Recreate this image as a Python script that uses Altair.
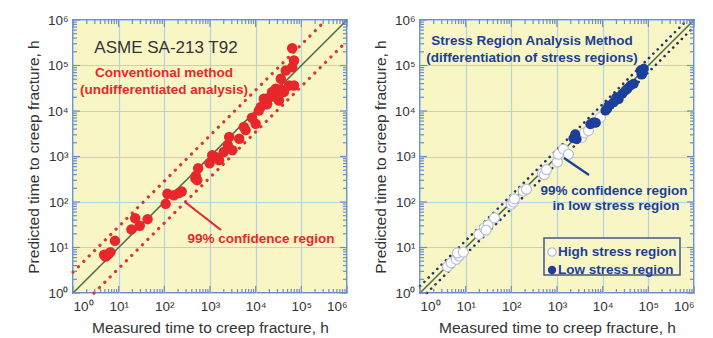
import altair as alt
import pandas as pd

# ---------------- data ----------------
left_measured = [4.8, 5.2, 6.0, 6.6, 8.3, 19, 23, 29, 43, 107, 117, 162, 209, 240,
                 480, 490, 525, 550, 977, 1120, 1320, 1580, 2000, 2450, 2630, 3090,
                 4370, 5500, 6030, 8300, 10000, 11700, 12900, 15100, 17800, 19500,
                 22900, 27500, 28200, 32400, 35500, 35500, 41700, 45700, 53700,
                 63100, 69200, 69200, 63100]
left_predicted = [6.9, 6.3, 7.2, 7.9, 14, 25, 44, 30, 42, 91, 151, 141, 158, 170,
                  330, 372, 302, 550, 708, 1070, 977, 832, 1260, 1780, 2690, 1380,
                  2450, 4470, 3800, 7100, 5250, 10200, 12300, 18600, 14100, 19500,
                  26300, 30900, 20000, 17000, 51300, 30200, 26300, 77600, 36300,
                  91200, 36300, 129000, 240000]

high_measured = [4.0, 4.8, 6.2, 7.2, 6.6, 8.9, 19.5, 25.7, 30.9, 28, 42.7, 100, 110,
                 117, 182, 214, 479, 525, 589, 1020, 1070, 1380, 1780, 3470, 3980,
                 4900, 6920, 8910]
high_predicted = [3.8, 4.6, 5.5, 6.5, 7.6, 7.9, 19.5, 26.9, 30.9, 24, 44.7, 89, 100,
                  117, 174, 191, 427, 398, 513, 759, 1120, 1450, 1120, 2630, 3310,
                  3720, 5620, 7240]

low_measured = [2290, 2510, 2690, 5370, 6310, 7080, 11500, 12600, 13500, 17400, 20000,
                22400, 26900, 31600, 34700, 40700, 47900, 67600, 70800, 74100, 79400]
low_predicted = [2510, 3090, 2400, 5130, 5620, 5500, 10200, 11200, 13200, 15500, 20000,
                 18200, 24000, 28200, 30900, 36300, 39800, 77600, 63100, 66100, 85100]

major_ticks = [1, 10, 100, 1000, 10000, 100000, 1000000]
superscripts = ["⁰", "¹", "²", "³", "⁴", "⁵", "⁶"]
minor_ticks = [m * t for t in major_ticks[:-1] for m in range(2, 10)]

left_band = 0.46   # half-width (decades) of 99% confidence region, conventional
right_band = 0.15  # half-width (decades) of 99% confidence region, low stress

# ---------------- styling ----------------
W, H = 274, 273
YELLOW = "#f9f6c5"
RED = "#e8272b"
NAVY = "#1b3f9a"
TICKC = "#6e8ccc"
FONT = "Liberation Sans"

label_expr = "'10' + " + str(superscripts).replace('"', "'") + "[round(log(datum.value)/LN10)]"

xs = alt.Scale(type="log", domain=[1, 1e6], nice=False)
ys = alt.Scale(type="log", domain=[1, 1e6], nice=False)


def xaxis():
    return alt.Axis(values=major_ticks, labelExpr=label_expr, title="Measured time to creep fracture, h",
                    ticks=False, domain=False, grid=True, labelPadding=6, titlePadding=8)


def yaxis():
    return alt.Axis(values=major_ticks, labelExpr=label_expr, title="Predicted time to creep fracture, h",
                    ticks=False, domain=False, grid=True, labelPadding=5, titlePadding=6)


def tick_layers():
    maj = pd.DataFrame({"v": major_ticks})
    mino = pd.DataFrame({"v": minor_ticks})
    layers = []
    for df, ln in ((maj, 7), (mino, 4)):
        base = alt.Chart(df).mark_rule(color=TICKC, strokeWidth=1.2)
        layers += [
            base.encode(x=alt.X("v:Q", scale=xs), y=alt.value(H), y2=alt.value(H - ln)),
            base.encode(x=alt.X("v:Q", scale=xs), y=alt.value(0), y2=alt.value(ln)),
            base.encode(y=alt.Y("v:Q", scale=ys), x=alt.value(0), x2=alt.value(ln)),
            base.encode(y=alt.Y("v:Q", scale=ys), x=alt.value(W), x2=alt.value(W - ln)),
        ]
    return layers


def diag_layers(band, color, width, dash):
    ends = [1, 1e6]
    diag = pd.DataFrame({"x": ends, "y": ends})
    up = pd.DataFrame({"x": [1, 1e6 / 10 ** band], "y": [10 ** band, 1e6]})
    lo = pd.DataFrame({"x": [10 ** band, 1e6], "y": [1, 1e6 / 10 ** band]})
    layers = [
        alt.Chart(diag).mark_line(color="#4d6b4d", strokeWidth=1.5).encode(
            x=alt.X("x:Q", scale=xs, axis=xaxis()), y=alt.Y("y:Q", scale=ys, axis=yaxis()))
    ]
    for d in (up, lo):
        layers.append(alt.Chart(d).mark_line(color=color, strokeWidth=width, strokeDash=dash,
                                             strokeCap="round").encode(
            x=alt.X("x:Q", scale=xs), y=alt.Y("y:Q", scale=ys)))
    return layers


def text(t, x, y, color, size, weight="bold"):
    return alt.Chart(pd.DataFrame({"t": [t]})).mark_text(
        color=color, fontSize=size, fontWeight=weight, font=FONT, align="center", baseline="middle"
    ).encode(text="t:N", x=alt.value(x), y=alt.value(y))


# ---------------- left panel ----------------
ldf = pd.DataFrame({"m": left_measured, "p": left_predicted})
left_pts = alt.Chart(ldf).mark_circle(color=RED, size=110, opacity=1).encode(
    x=alt.X("m:Q", scale=xs), y=alt.Y("p:Q", scale=ys))

left = alt.layer(
    *diag_layers(left_band, "#d9363a", 3.2, [0.1, 7.5]),
    left_pts,
    *tick_layers(),
    text("ASME SA-213 T92", 93, 28, "#333333", 17, "normal"),
    text("Conventional method", 91, 53, RED, 13.5),
    text("(undifferentiated analysis)", 91, 70, RED, 13.5),
    alt.Chart(pd.DataFrame({"a": [0]})).mark_rule(color=RED, strokeWidth=2.2).encode(
        x=alt.value(112), y=alt.value(182), x2=alt.value(148), y2=alt.value(210)),
    text("99% confidence region", 188, 219, RED, 13.5),
).properties(width=W, height=H)

# ---------------- right panel ----------------
hdf = pd.DataFrame({"m": high_measured, "p": high_predicted})
ndf = pd.DataFrame({"m": low_measured, "p": low_predicted})
high_pts = alt.Chart(hdf).mark_circle(color="white", size=100, opacity=1, stroke="#b8bfd8",
                                      strokeWidth=1.2).encode(
    x=alt.X("m:Q", scale=xs), y=alt.Y("p:Q", scale=ys))
low_pts = alt.Chart(ndf).mark_circle(color=NAVY, size=100, opacity=1).encode(
    x=alt.X("m:Q", scale=xs), y=alt.Y("p:Q", scale=ys))

legend_box = alt.Chart(pd.DataFrame({"a": [0]})).mark_rect(
    fill=YELLOW, stroke="#44558f", strokeWidth=1.5).encode(
    x=alt.value(124), x2=alt.value(260), y=alt.value(218), y2=alt.value(255))
leg_high = alt.Chart(pd.DataFrame({"a": [0]})).mark_circle(
    color="white", size=70, opacity=1, stroke="#b8bfd8", strokeWidth=1.2).encode(
    x=alt.value(132), y=alt.value(232))
leg_low = alt.Chart(pd.DataFrame({"a": [0]})).mark_circle(
    color=NAVY, size=70, opacity=1).encode(x=alt.value(132), y=alt.value(250))


def ltext(t, x, y):
    return alt.Chart(pd.DataFrame({"t": [t]})).mark_text(
        color=NAVY, fontSize=13.5, fontWeight="bold", font=FONT, align="left", baseline="middle"
    ).encode(text="t:N", x=alt.value(x), y=alt.value(y))


right = alt.layer(
    *diag_layers(right_band, "#28306a", 2.6, [0.1, 6]),
    high_pts,
    low_pts,
    *tick_layers(),
    text("Stress Region Analysis Method", 112, 21, NAVY, 13.5),
    text("(differentiation of stress regions)", 112, 38, NAVY, 13.5),
    alt.Chart(pd.DataFrame({"a": [0]})).mark_rule(color=NAVY, strokeWidth=2.2).encode(
        x=alt.value(144), y=alt.value(138), x2=alt.value(169), y2=alt.value(155)),
    text("99% confidence region", 194, 171, NAVY, 13.5),
    text("in low stress region", 196, 186, NAVY, 13.5),
    legend_box, leg_high, leg_low,
    ltext("High stress region", 138, 232),
    ltext("Low stress region", 138, 250),
).properties(width=W, height=H)

chart = alt.hconcat(left, right, spacing=17).properties(
    padding={"left": 25, "top": 12, "right": 5, "bottom": 5},
    background="white",
).configure_view(
    fill=YELLOW, stroke=TICKC, strokeWidth=2
).configure_axis(
    labelFont=FONT, titleFont=FONT, labelFontSize=13.5, titleFontSize=15.5,
    labelColor="#333333", titleColor="#333333", titleFontWeight="normal",
    gridColor="#b3d3e2", gridWidth=1.2
)

chart.save("out.html", embed_options={"renderer": "svg", "actions": False})
